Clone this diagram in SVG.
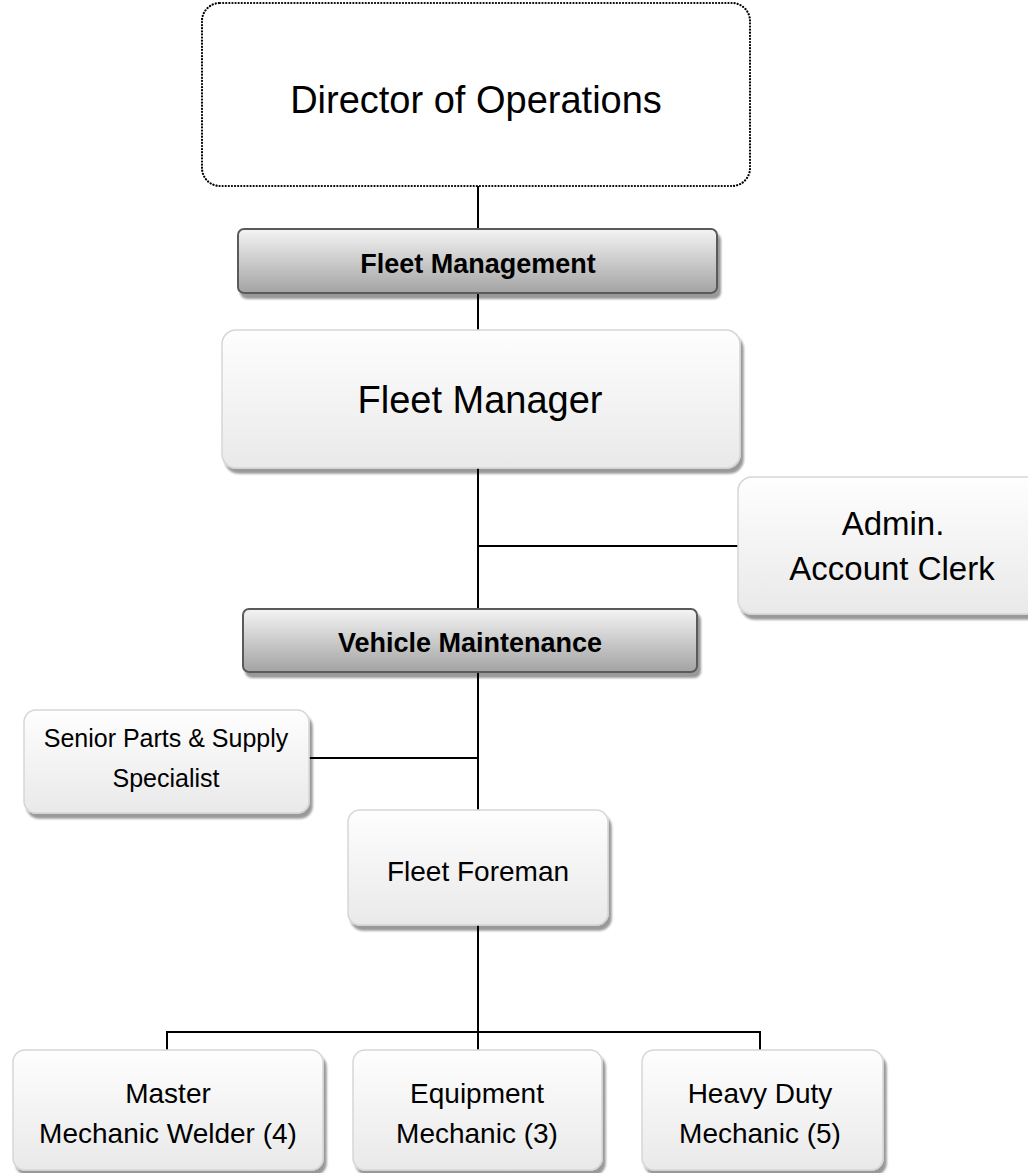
<svg xmlns="http://www.w3.org/2000/svg" width="1028" height="1173" viewBox="0 0 1028 1173">
  <defs>
    <linearGradient id="gLight" x1="0" y1="0" x2="0" y2="1">
      <stop offset="0" stop-color="#fefefe"/>
      <stop offset="1" stop-color="#e9e9e9"/>
    </linearGradient>
    <linearGradient id="gDark" x1="0" y1="0" x2="0" y2="1">
      <stop offset="0" stop-color="#f4f4f4"/>
      <stop offset="1" stop-color="#a3a3a3"/>
    </linearGradient>
    <filter id="shadow" x="-5%" y="-5%" width="115%" height="125%">
      <feDropShadow dx="3" dy="5" stdDeviation="1" flood-color="#000" flood-opacity="0.4"/>
    </filter>
  </defs>
  <style>
    .light { fill: url(#gLight); stroke: #d6d6d6; stroke-width: 1.5; filter: url(#shadow); }
    .dark { fill: url(#gDark); stroke: #5a5a5a; stroke-width: 2; filter: url(#shadow); }
    .dotted { fill: #ffffff; stroke: #000; stroke-width: 2.2; stroke-dasharray: 0.1 3; stroke-linecap: round; }
    text { font-family: "Liberation Sans", Arial, sans-serif; fill: #000; text-anchor: middle; }
    .b { font-weight: bold; font-size: 27px; }
    .conn { stroke: #000; stroke-width: 2; fill: none; }
  </style>

  <g id="connectors">
    <line class="conn" x1="478" y1="186" x2="478" y2="230"/>
    <line class="conn" x1="478" y1="293" x2="478" y2="330"/>
    <line class="conn" x1="478" y1="468" x2="478" y2="609"/>
    <line class="conn" x1="477" y1="546" x2="739" y2="546"/>
    <line class="conn" x1="478" y1="672" x2="478" y2="811"/>
    <line class="conn" x1="308" y1="758" x2="479" y2="758"/>
    <line class="conn" x1="478" y1="925" x2="478" y2="1051"/>
    <polyline class="conn" points="167,1051 167,1032 760,1032 760,1051"/>
  </g>

  <g id="director">
    <rect class="dotted" x="202" y="3" width="548" height="183" rx="18"/>
    <text x="476" y="113" font-size="38">Director of Operations</text>
  </g>

  <g id="fleet-management">
    <rect class="dark" x="238" y="229" width="479" height="64" rx="6"/>
    <text class="b" x="478" y="273">Fleet Management</text>
  </g>

  <g id="fleet-manager">
    <rect class="light" x="222" y="330" width="518" height="138" rx="14"/>
    <text x="480" y="413" font-size="38">Fleet Manager</text>
  </g>

  <g id="admin-clerk">
    <rect class="light" x="738" y="477" width="312" height="137" rx="14"/>
    <text x="893" y="535" font-size="33">Admin.</text>
    <text x="892" y="580" font-size="33">Account Clerk</text>
  </g>

  <g id="vehicle-maintenance">
    <rect class="dark" x="243" y="609" width="454" height="63" rx="6"/>
    <text class="b" x="470" y="652">Vehicle Maintenance</text>
  </g>

  <g id="senior-parts">
    <rect class="light" x="24" y="710" width="285" height="103" rx="12"/>
    <text x="166" y="747" font-size="25">Senior Parts &amp; Supply</text>
    <text x="166" y="787" font-size="25">Specialist</text>
  </g>

  <g id="fleet-foreman">
    <rect class="light" x="348" y="810" width="260" height="115" rx="12"/>
    <text x="478" y="881" font-size="28">Fleet Foreman</text>
  </g>

  <g id="master-mechanic">
    <rect class="light" x="13" y="1050" width="310" height="120" rx="12"/>
    <text x="168" y="1103" font-size="28">Master</text>
    <text x="168" y="1143" font-size="28">Mechanic Welder (4)</text>
  </g>

  <g id="equipment-mechanic">
    <rect class="light" x="353" y="1050" width="249" height="120" rx="12"/>
    <text x="477" y="1103" font-size="28">Equipment</text>
    <text x="477" y="1143" font-size="28">Mechanic (3)</text>
  </g>

  <g id="heavy-duty-mechanic">
    <rect class="light" x="642" y="1050" width="241" height="120" rx="12"/>
    <text x="760" y="1103" font-size="28">Heavy Duty</text>
    <text x="760" y="1143" font-size="28">Mechanic (5)</text>
  </g>
</svg>
